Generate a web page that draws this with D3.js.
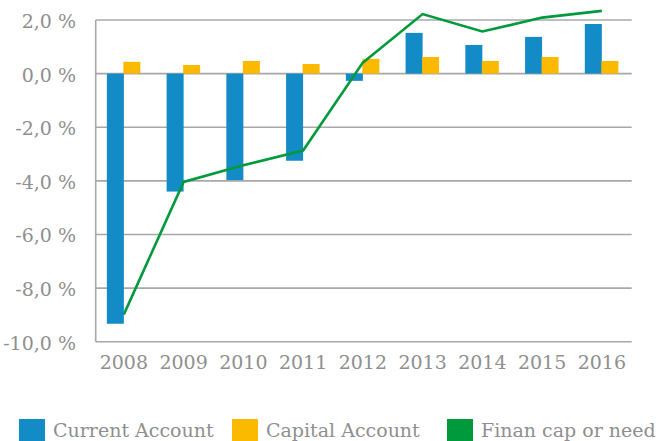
<!DOCTYPE html>
<html>
<head>
<meta charset="utf-8">
<script src="https://cdn.jsdelivr.net/npm/d3@7"></script>
<style>
  body { margin: 0; background: #fff; }
  text { font-family: "DejaVu Serif", serif; fill: #8f8f8f; }
</style>
</head>
<body>
<script>
var years = ["2008", "2009", "2010", "2011", "2012", "2013", "2014", "2015", "2016"];
var currentAccount = [-9.33, -4.40, -3.97, -3.25, -0.27, 1.52, 1.07, 1.37, 1.85];
var capitalAccount = [0.44, 0.32, 0.47, 0.36, 0.55, 0.62, 0.47, 0.62, 0.47];
var finanCap = [-8.98, -4.04, -3.42, -2.87, 0.41, 2.22, 1.57, 2.09, 2.34];
var yTicks = [2, 0, -2, -4, -6, -8, -10];
var legendNames = ["Current Account", "Capital Account", "Finan cap or need"];
var colors = ["#138bc7", "#fbb900", "#009a3d"];

var width = 656, height = 441;
var plotLeft = 95.7, plotRight = 631.7, plotTop = 20, plotBottom = 341.7;

var svg = d3.select("body").append("svg")
    .attr("width", width)
    .attr("height", height);

var x = d3.scaleBand()
    .domain(years)
    .range([94, plotRight]);

var y = d3.scaleLinear()
    .domain([-10, 2])
    .range([plotBottom, plotTop]);

var bw = 17;

// gridlines
svg.selectAll("line.grid")
    .data(yTicks)
    .enter().append("line")
    .attr("class", "grid")
    .attr("x1", plotLeft)
    .attr("x2", plotRight)
    .attr("y1", function(d){return y(d);})
    .attr("y2", function(d){return y(d);})
    .attr("stroke", "#a8a8a8")
    .attr("stroke-width", 1.6);

svg.append("line")
    .attr("x1", plotLeft).attr("x2", plotLeft)
    .attr("y1", plotTop).attr("y2", plotBottom)
    .attr("stroke", "#a8a8a8")
    .attr("stroke-width", 1.6);

// y labels
svg.selectAll("text.ylab")
    .data(yTicks)
    .enter().append("text")
    .attr("class", "ylab")
    .attr("x", 76)
    .attr("y", function(d){return y(d) + 1;})
    .attr("dominant-baseline", "central")
    .attr("text-anchor", "end")
    .attr("font-size", 19)
    .text(function(d){return d3.format(".1f")(d).replace("−", "-").replace(".", ",") + " %";});

// x labels
svg.selectAll("text.xlab")
    .data(years)
    .enter().append("text")
    .attr("class", "xlab")
    .attr("x", function(d){return x(d) + x.bandwidth() / 2;})
    .attr("y", 369)
    .attr("text-anchor", "middle")
    .attr("font-size", 19)
    .text(function(d){return d;});

function cx(i) { return x(years[i]) + x.bandwidth() / 2; }

// current account bars
svg.selectAll("rect.ca")
    .data(currentAccount)
    .enter().append("rect")
    .attr("class", "ca")
    .attr("x", function(d, i){return cx(i) - bw;})
    .attr("width", bw)
    .attr("y", function(d){return y(Math.max(0, d));})
    .attr("height", function(d){return Math.abs(y(d) - y(0));})
    .attr("fill", colors[0]);

// capital account bars
svg.selectAll("rect.cap")
    .data(capitalAccount)
    .enter().append("rect")
    .attr("class", "cap")
    .attr("x", function(d, i){return cx(i) - 0.5;})
    .attr("width", bw)
    .attr("y", function(d){return y(Math.max(0, d));})
    .attr("height", function(d){return Math.abs(y(d) - y(0));})
    .attr("fill", colors[1]);

// financing line
var line = d3.line()
    .x(function(d, i){return cx(i);})
    .y(function(d){return y(d);});

svg.append("path")
    .datum(finanCap)
    .attr("d", line)
    .attr("fill", "none")
    .attr("stroke", colors[2])
    .attr("stroke-width", 2.6);

// legend
var legendX = [19, 232, 447];
var leg = svg.selectAll("g.leg")
    .data(legendNames)
    .enter().append("g")
    .attr("class", "leg")
    .attr("transform", function(d, i){return "translate(" + legendX[i] + ",419)";});

leg.append("rect")
    .attr("width", 26)
    .attr("height", 26)
    .attr("fill", function(d, i){return colors[i];});

leg.append("text")
    .attr("x", 34)
    .attr("y", 18)
    .attr("font-size", 19)
    .text(function(d){return d;});
</script>
</body>
</html>
